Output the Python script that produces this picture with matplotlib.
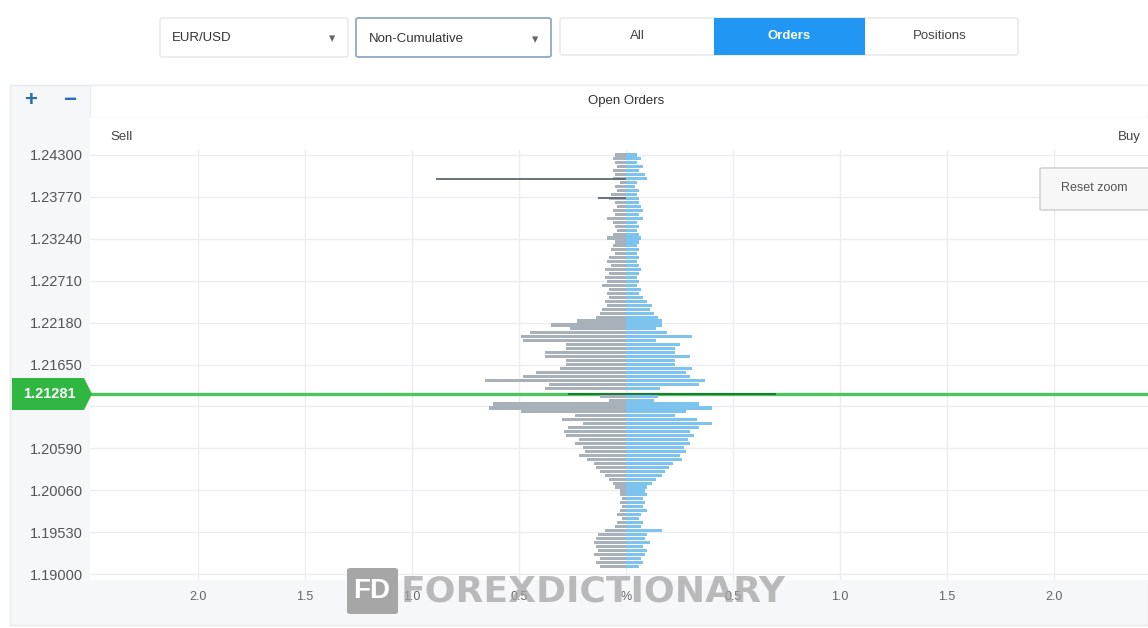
import matplotlib
matplotlib.use("Agg")
import matplotlib.pyplot as plt
from matplotlib.patches import Rectangle, Polygon, FancyBboxPatch
import numpy as np

plt.rcParams['font.family'] = ['Liberation Sans', 'DejaVu Sans']

W, H = 1148, 628

# order book buckets, top bucket first
top_price = 1.2430
bucket = 0.0005
sell_pct = [0.05, 0.06, 0.05, 0.04, 0.06, 0.05, 0.06, 0.03, 0.05, 0.04,
            0.07, 0.08, 0.05, 0.04, 0.06, 0.05, 0.09, 0.06, 0.05, 0.04,
            0.06, 0.09, 0.05, 0.06, 0.07, 0.05, 0.08, 0.09, 0.07, 0.10,
            0.08, 0.10, 0.09, 0.11, 0.08, 0.09, 0.08, 0.10, 0.09, 0.11,
            0.12, 0.14,
            0.23, 0.35, 0.26, 0.45, 0.49, 0.48, 0.28, 0.28, 0.38, 0.38,
            0.28, 0.28, 0.31, 0.42, 0.48, 0.66, 0.36, 0.38,
            0.27,
            0.12, 0.08, 0.62, 0.64, 0.49, 0.24, 0.30, 0.20, 0.27,
            0.29, 0.28, 0.22, 0.24, 0.20, 0.19, 0.22, 0.18, 0.15, 0.14,
            0.12, 0.10, 0.08, 0.06, 0.05, 0.03, 0.03, 0.02, 0.03, 0.02,
            0.03, 0.04, 0.02, 0.04, 0.05, 0.10, 0.13, 0.14, 0.15, 0.14,
            0.13, 0.15, 0.12, 0.14, 0.12]
buy_pct = [0.05, 0.07, 0.05, 0.08, 0.06, 0.09, 0.10, 0.05, 0.04, 0.06,
           0.05, 0.06, 0.06, 0.07, 0.08, 0.06, 0.08, 0.05, 0.06, 0.05,
           0.06, 0.07, 0.06, 0.05, 0.06, 0.05, 0.06, 0.05, 0.06, 0.07,
           0.06, 0.05, 0.06, 0.05, 0.07, 0.06, 0.08, 0.10, 0.12, 0.11,
           0.13, 0.15,
           0.17, 0.17, 0.14, 0.19, 0.31, 0.14, 0.25, 0.23, 0.23, 0.30,
           0.23, 0.23, 0.31, 0.28, 0.30, 0.37, 0.34, 0.16,
           0.70,
           0.15, 0.13, 0.34, 0.40, 0.28, 0.23, 0.33, 0.40, 0.34,
           0.30, 0.32, 0.29, 0.30, 0.27, 0.28, 0.25, 0.26, 0.22, 0.20,
           0.18, 0.17, 0.14, 0.12, 0.10, 0.09, 0.10, 0.08, 0.09, 0.08,
           0.10, 0.07, 0.06, 0.08, 0.07, 0.17, 0.10, 0.09, 0.11, 0.08,
           0.10, 0.09, 0.07, 0.08, 0.06]

# previous snapshot lines that stick out
prev_price = [1.2400, 1.2375]
prev_sell = [0.89, 0.13]

current_price = 1.21281
price_ticks = [1.24300, 1.23770, 1.23240, 1.22710, 1.22180, 1.21650,
               1.21120, 1.20590, 1.20060, 1.19530, 1.19000]
x_ticks = [-2.0, -1.5, -1.0, -0.5, 0.0, 0.5, 1.0, 1.5, 2.0]
x_labels = ["2.0", "1.5", "1.0", "0.5", "%", "0.5", "1.0", "1.5", "2.0"]

prices = top_price - bucket * np.arange(len(sell_pct))

fig = plt.figure(figsize=(W / 100, H / 100), dpi=100)
fig.patch.set_facecolor("white")


def box(x0, y0, x1, y1, fc, ec="none", lw=1.0, r=0.0, z=0):
    # rectangle given in screen pixels (top-left origin)
    if r > 0:
        p = FancyBboxPatch((x0 / W, 1 - y1 / H), (x1 - x0) / W, (y1 - y0) / H,
                           boxstyle=f"round,pad=0,rounding_size={r / W}",
                           transform=fig.transFigure, fc=fc, ec=ec, lw=lw, zorder=z)
    else:
        p = Rectangle((x0 / W, 1 - y1 / H), (x1 - x0) / W, (y1 - y0) / H,
                      transform=fig.transFigure, fc=fc, ec=ec, lw=lw, zorder=z)
    fig.patches.append(p)


def txt(x, y, s, **kw):
    fig.text(x / W, 1 - y / H, s, va="center", **kw)


# top controls
box(160, 18, 348, 57, "white", "#e3e6ea", r=3)
txt(172, 38, "EUR/USD", fontsize=9.5, color="#333333")
txt(332, 39, "▾", fontsize=9, color="#666666", ha="center", family="DejaVu Sans")
box(356, 18, 551, 57, "white", "#8fa9c4", lw=1.3, r=3)
txt(369, 39, "Non-Cumulative", fontsize=9.5, color="#333333")
txt(535, 40, "▾", fontsize=9, color="#666666", ha="center", family="DejaVu Sans")
box(560, 18, 1018, 55, "white", "#e3e6ea", r=3)
box(714, 18, 865, 55, "#2196f3", z=1)
txt(637, 36, "All", fontsize=9.5, color="#444444", ha="center")
txt(789, 36, "Orders", fontsize=9.5, color="white", ha="center", weight="bold")
txt(940, 36, "Positions", fontsize=9.5, color="#444444", ha="center")

# chart panel frame (behind the axes)
box(10, 85, 1148, 625, "#f6f7f9", "#e8eaed", z=-3)
box(90, 85, 1148, 118, "white", "#eceef0", z=-2)
box(90, 118, 1148, 580, "white", z=-2)
txt(31, 101, "+", fontsize=16, color="#2a6db0", ha="center", weight="bold")
txt(70, 101, "−", fontsize=16, color="#2a6db0", ha="center", weight="bold")
txt(626, 101, "Open Orders", fontsize=9.5, color="#333333", ha="center")
txt(110, 137, "Sell", fontsize=9.5, color="#444444")
txt(1141, 137, "Buy", fontsize=9.5, color="#444444", ha="right")

# plot area
ax = fig.add_axes([90 / W, 1 - 580 / H, (W - 90) / W, (580 - 150) / H])
ax.set_facecolor("none")
px_per_unit = 214.0
ax.set_xlim((90 - 626) / px_per_unit, (W - 626) / px_per_unit)
ppu = 7906.0
ax.set_ylim(1.19000 - 6 / ppu, 1.24300 + 5 / ppu)

# regular buckets, the one holding the current price is highlighted on the price line
cur_idx = int(np.argmin(np.abs(prices - current_price)))
rows = [i for i in range(len(prices)) if i != cur_idx]
ax.barh(prices[rows], [-sell_pct[i] for i in rows], height=bucket * 0.78,
        color="#a8b0b9", zorder=3)
ax.barh(prices[rows], [buy_pct[i] for i in rows], height=bucket * 0.78,
        color="#7cc3ee", zorder=3)
ax.hlines(prev_price, [-v for v in prev_sell], 0, color="#5d6874", lw=1.3, zorder=4)

ax.axhline(current_price, color="#4cc55c", lw=2.4, zorder=2)
ax.barh([current_price], [-sell_pct[cur_idx]], height=bucket * 0.55,
        color="#1f7a3a", zorder=4)
ax.barh([current_price], [buy_pct[cur_idx]], height=bucket * 0.55,
        color="#1f7a3a", zorder=4)

ax.set_yticks(price_ticks)
ax.set_yticklabels([f"{p:.5f}" if abs(p - 1.2112) > 1e-6 else "" for p in price_ticks])
ax.set_xticks(x_ticks)
ax.set_xticklabels(x_labels)
ax.tick_params(axis="y", length=0, pad=5, labelsize=10.5, labelcolor="#555555")
ax.tick_params(axis="x", length=0, pad=8, labelsize=9, labelcolor="#666666")
ax.grid(True, color="#ebedf0", lw=1.0, zorder=0)
for s in ax.spines.values():
    s.set_visible(False)

# current price tag
tag = Polygon([(12 / W, 1 - 378 / H), (84 / W, 1 - 378 / H), (92 / W, 1 - 394 / H),
               (84 / W, 1 - 410 / H), (12 / W, 1 - 410 / H)],
              closed=True, transform=fig.transFigure, fc="#2fb741", ec="none", zorder=5)
fig.patches.append(tag)
txt(49, 394, f"{current_price:.5f}", fontsize=10.5, color="white", ha="center", weight="bold", zorder=6)

# reset zoom button
box(1040, 168, 1150, 210, "#f7f7f7", "#cccccc", r=2, z=6)
txt(1094, 188, "Reset zoom", fontsize=9, color="#555555", ha="center", zorder=7)

# watermark
box(347, 568, 398, 614, "#a6a6a6", r=4, z=8)
txt(372, 591, "FD", fontsize=20, color="white", ha="center", weight="bold", zorder=9)
txt(401, 592, "FOREXDICTIONARY", fontsize=26, color="#a2a2a2", weight="bold",
    alpha=0.72, zorder=9, family="DejaVu Sans")

fig.savefig("out.png", dpi=100)
